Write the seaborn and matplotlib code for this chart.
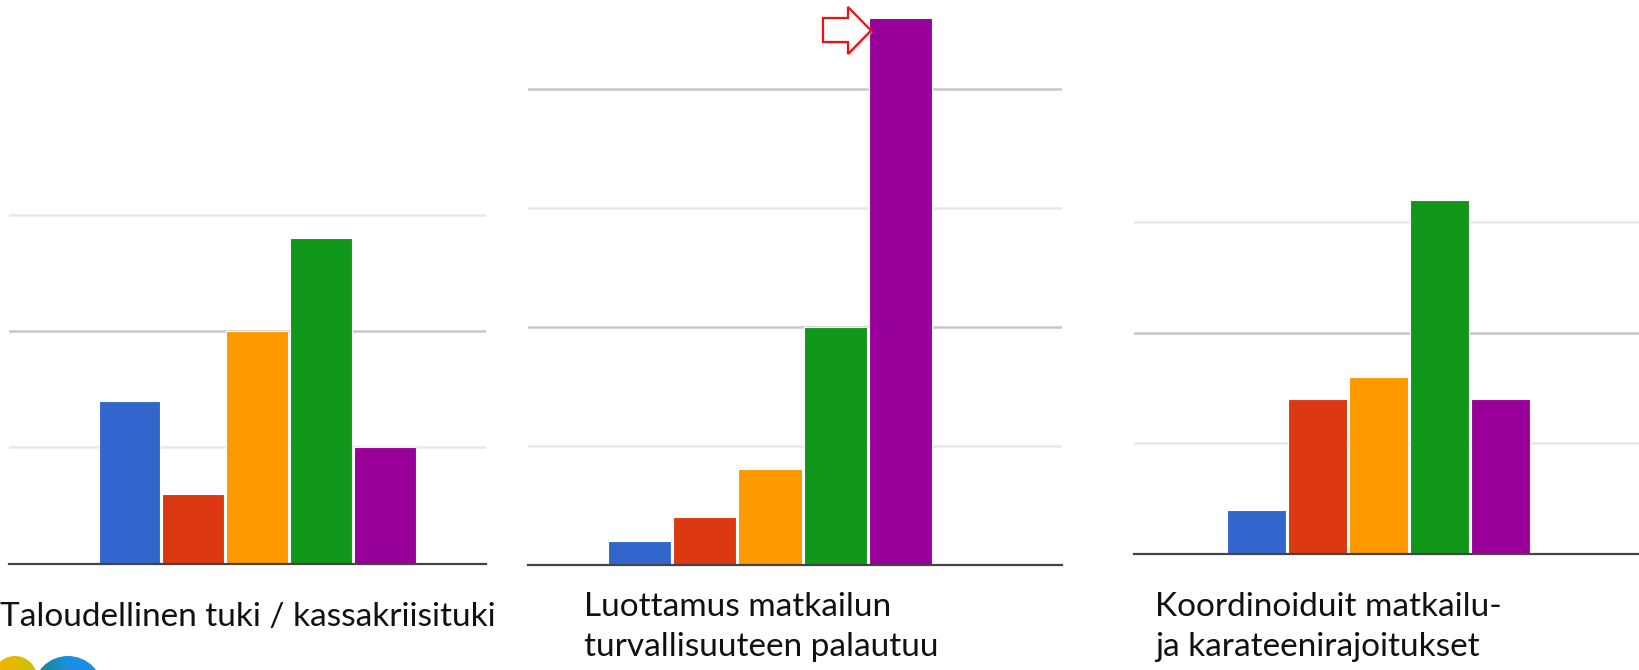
import numpy as np
import seaborn as sns
from matplotlib import pyplot as plt
from matplotlib.patches import Polygon, Circle
from matplotlib.colors import LinearSegmentedColormap
from matplotlib.ticker import MultipleLocator, NullFormatter

# answer scale 1..5, one bar per answer
answers = ["1", "2", "3", "4", "5"]
bar_colors = ["#3366cc", "#dc3912", "#ff9900", "#109618", "#990099"]

talous = [7, 3, 10, 14, 5]
luottamus = [1, 2, 4, 10, 23]
koordinointi = [2, 7, 8, 16, 7]

captions = [
    ["Taloudellinen tuki / kassakriisituki"],
    ["Luottamus matkailun", "turvallisuuteen palautuu"],
    ["Koordinoiduit matkailu-", "ja karateenirajoitukset"],
]

W, H = 1639, 670

sns.set_theme(style="white")
plt.rcParams["font.family"] = ["Lato", "DejaVu Sans"]

fig = plt.figure(figsize=(W / 100, H / 100), dpi=100)
fig.patch.set_facecolor("white")

# pixel layout of each screenshot panel:
# left, right, baseline y, px per unit, first bar centre, bar step, top value
layout = [
    (9, 486, 563.5, 23.25, 129.5, 63.8, 17),
    (528, 1062, 564.5, 23.78, 639.5, 65.3, 23.7),
    (1134, 1639, 554.2, 22.16, 1256.8, 61.0, 17),
]


def draw_panel(values, left, right, base, ppu, c0, step, top):
    y_top = base - top * ppu
    ax = fig.add_axes([left / W, (H - base) / H, (right - left) / W, (base - y_top) / H])
    sns.barplot(
        x=answers, y=values, hue=answers, palette=bar_colors, width=0.97,
        edgecolor="white", linewidth=0.8, saturation=1, legend=False, ax=ax,
    )
    ax.set_xlim((left - c0) / step, (right - c0) / step)
    ax.set_ylim(0, top)
    ax.yaxis.set_major_locator(MultipleLocator(10))
    ax.yaxis.set_minor_locator(MultipleLocator(5))
    ax.yaxis.set_major_formatter(NullFormatter())
    ax.grid(axis="y", which="major", color="#c8c8c8", lw=1.8)
    ax.grid(axis="y", which="minor", color="#e8e8e8", lw=1.8)
    ax.set_axisbelow(True)
    ax.set_xticks([])
    ax.tick_params(left=False, which="both")
    ax.set_xlabel("")
    ax.set_ylabel("")
    for s in ["left", "right", "top"]:
        ax.spines[s].set_visible(False)
    ax.spines["bottom"].set_color("#444444")
    ax.spines["bottom"].set_linewidth(1.6)
    return ax


for vals, lay in zip([talous, luottamus, koordinointi], layout):
    draw_panel(vals, *lay)

# captions under each panel
text_pos = [(0, [626]), (584, [616, 656]), (1155, [616, 656])]
for lines, (tx, baselines) in zip(captions, text_pos):
    for line, by in zip(lines, baselines):
        fig.text(tx / W, 1 - by / H, line, fontsize=24, color="#111111",
                 ha="left", va="baseline")

# overlay for the red arrow and the logo
ov = fig.add_axes([0, 0, 1, 1], zorder=10)
ov.set_xlim(0, W)
ov.set_ylim(H, 0)
ov.axis("off")
ov.patch.set_alpha(0)

arrow = [(823, 18), (848, 18), (848, 7), (871, 30.5), (848, 54), (848, 42), (823, 42)]
shadow = [(x + 2, y + 2) for x, y in arrow]
ov.add_patch(Polygon(shadow, closed=True, facecolor="#bbbbbb", edgecolor="none", alpha=0.5))
ov.add_patch(Polygon(arrow, closed=True, facecolor="white", edgecolor="#ee1111", lw=1.6))

grad = np.linspace(0, 1, 256).reshape(1, -1)
for (cx, cy, r), cols in [((15, 678, 22), ["#f7b200", "#c8c200"]),
                          ((68, 691, 35), ["#0d8a78", "#1a8fe6", "#1a8fe6"])]:
    circ = Circle((cx, cy), r, transform=ov.transData, facecolor="none", edgecolor="none")
    ov.add_patch(circ)
    im = ov.imshow(grad, cmap=LinearSegmentedColormap.from_list("g", cols),
                   extent=(cx - r, cx + r, cy + r, cy - r), aspect="auto")
    im.set_clip_path(circ)

ov.set_xlim(0, W)
ov.set_ylim(H, 0)

fig.savefig("out.png", dpi=100, facecolor="white")
